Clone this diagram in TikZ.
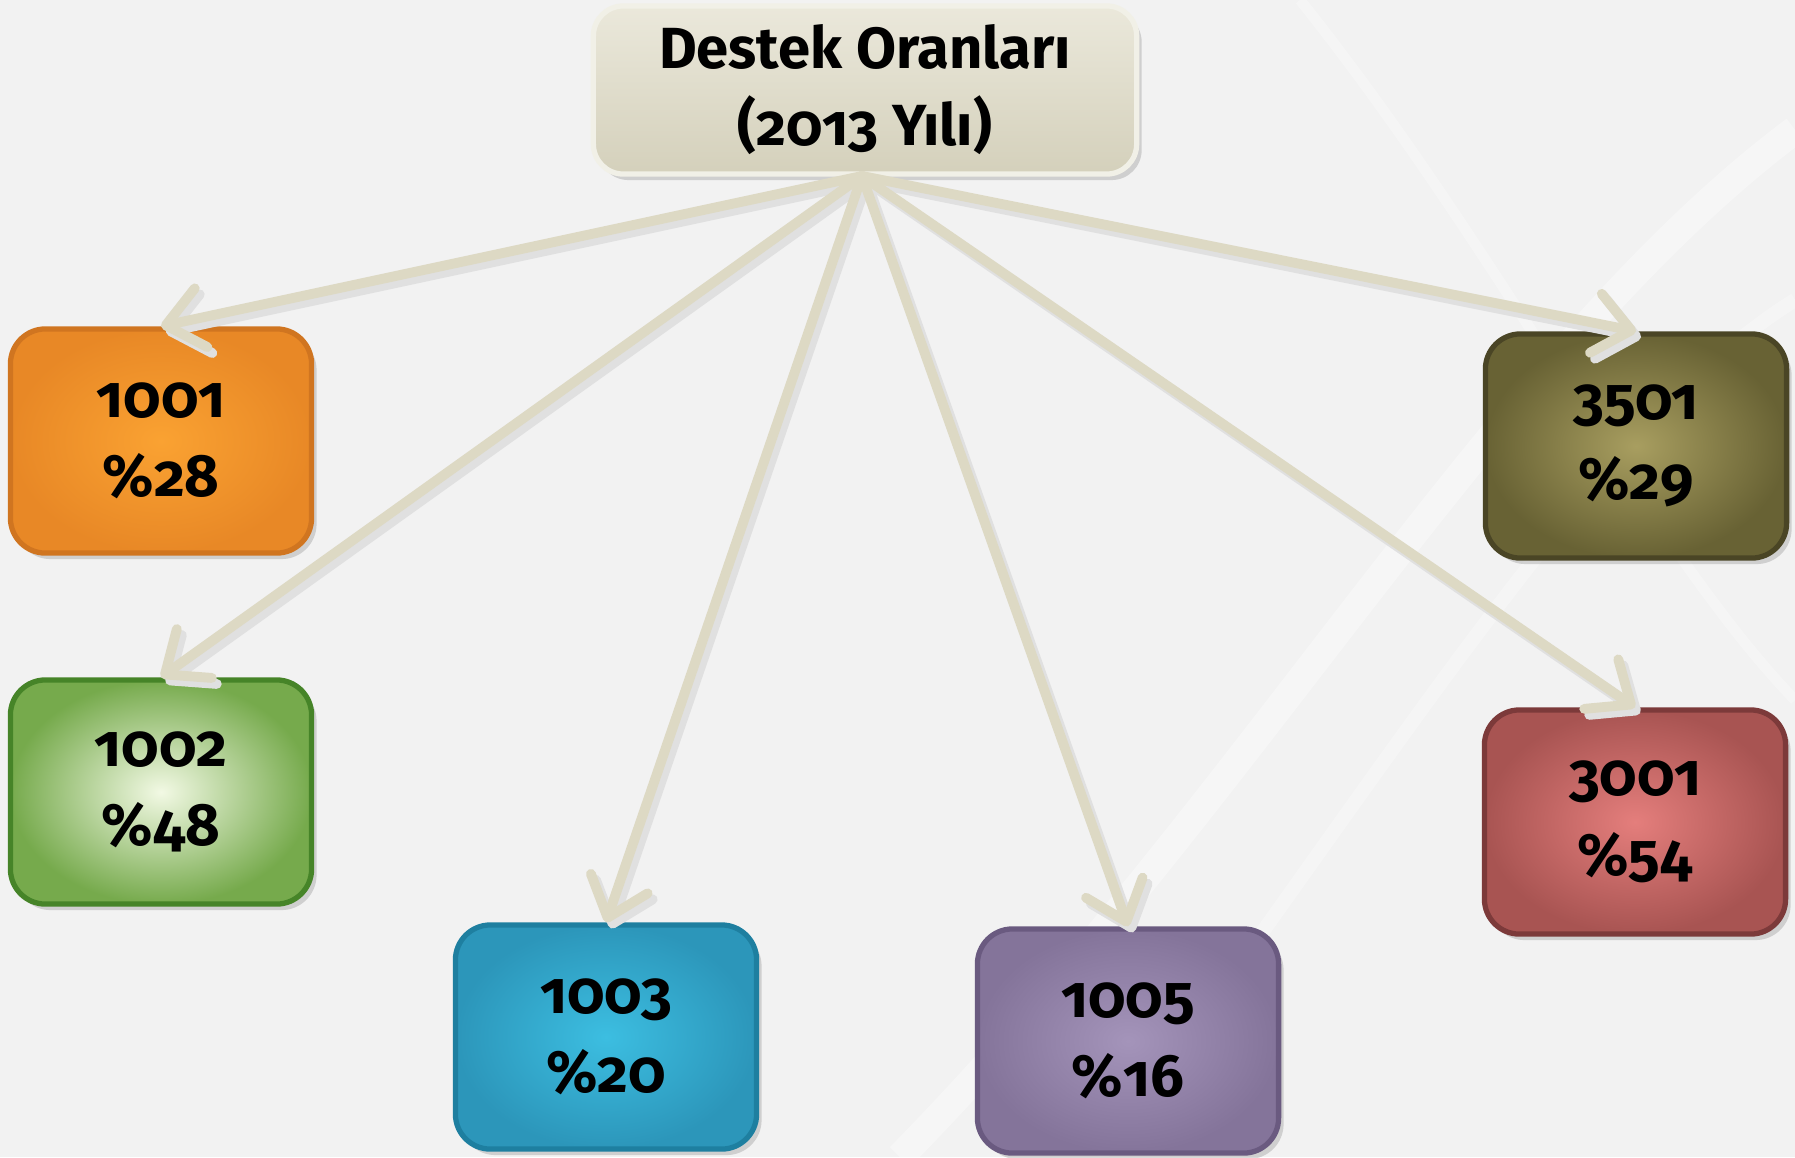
\documentclass[tikz,border=0pt]{standalone}
\usepackage{fontspec}
\setmainfont{Fira Sans}[Numbers=OldStyle]
\usepackage{xcolor}
\usetikzlibrary{arrows.meta}
\usetikzlibrary{shadows}

\definecolor{bgGray}{HTML}{F2F2F2}
\definecolor{beige}{HTML}{DDD9C3}
\definecolor{arrowBeige}{HTML}{DDD9C4}

\begin{document}
\begin{tikzpicture}[x=0.01cm, y=-0.01cm,
    >={Straight Barb[length=3.6mm,width=6mm,round]},
    tile/.style = {rectangle, rounded corners=0.35cm, line width=1.5pt,
                   minimum width=3.01cm, minimum height=2.24cm,
                   align=center, text=black,
                   font=\bfseries\fontsize{17}{22.6}\selectfont,
                   shading=radial,
                   drop shadow={shadow xshift=0.05cm, shadow yshift=-0.06cm,
                                opacity=0.3}},
    head/.style = {tile, minimum width=5.43cm, minimum height=1.68cm,
                   rounded corners=0.3cm, draw=white!60!beige,
                   shading=axis, top color=white!40!beige, bottom color=beige!96!black,
                   font=\bfseries\fontsize{16.5}{21.9}\selectfont},
    orangebox/.style = {tile, draw={rgb,255:red,208;green,117;blue,32},
                        inner color={rgb,255:red,250;green,162;blue,50},
                        outer color={rgb,255:red,232;green,136;blue,38}},
    greenbox/.style  = {tile, draw={rgb,255:red,70;green,132;blue,40},
                        inner color={rgb,255:red,242;green,249;blue,228},
                        outer color={rgb,255:red,118;green,170;blue,76}},
    bluebox/.style   = {tile, draw={rgb,255:red,30;green,127;blue,160},
                        inner color={rgb,255:red,60;green,190;blue,225},
                        outer color={rgb,255:red,44;green,150;blue,186}},
    purplebox/.style = {tile, draw={rgb,255:red,106;green,90;blue,128},
                        inner color={rgb,255:red,164;green,148;blue,186},
                        outer color={rgb,255:red,132;green,116;blue,154}},
    redbox/.style    = {tile, draw={rgb,255:red,124;green,58;blue,58},
                        inner color={rgb,255:red,228;green,126;blue,124},
                        outer color={rgb,255:red,168;green,84;blue,82}},
    olivebox/.style  = {tile, draw={rgb,255:red,74;green,69;blue,37},
                        inner color={rgb,255:red,168;green,158;blue,96},
                        outer color={rgb,255:red,104;green,98;blue,52}},
    link/.style = {->, color=arrowBeige, line width=2.8pt, line cap=round},
    linkshade/.style = {link, color=black!12}]

  % page and faint background swooshes
  \fill[bgGray] (0,0) rectangle (1795,1157);
  \useasboundingbox (0,0) rectangle (1795,1157);
  \draw[white, line width=8pt, opacity=0.35] (900,1157) .. controls (1250,800) and (1500,350) .. (1795,130);
  \draw[white, line width=4pt, opacity=0.3] (1100,1157) .. controls (1400,750) and (1600,420) .. (1795,300);
  \draw[white, line width=3pt, opacity=0.3] (1300,0) .. controls (1500,250) and (1650,550) .. (1795,700);

  \node (title) [head] at (865,90) {Destek Oranları\\(2013 Yılı)};

  \node (p1001) [orangebox] at (161,441)  {1001\\\%28};
  \node (p1002) [greenbox]  at (161,792)  {1002\\\%48};
  \node (p1003) [bluebox]   at (606,1037) {1003\\\%20};
  \node (p1005) [purplebox] at (1128,1041) {1005\\\%16};
  \node (p3001) [redbox]    at (1635,822) {3001\\\%54};
  \node (p3501) [olivebox]  at (1636,446) {3501\\\%29};

  \coordinate (hub) at (862,176);
  \coordinate (hubs) at (867,182);

  % soft shadows under the arrows
  \path[linkshade]
    (hubs) edge ([shift={(5,6)}]p1001.north)
    (hubs) edge ([shift={(5,6)}]p1002.north)
    (hubs) edge ([shift={(5,6)}]p1003.north)
    (hubs) edge ([shift={(5,6)}]p1005.north)
    (hubs) edge ([shift={(5,6)}]p3001.north)
    (hubs) edge ([shift={(5,6)}]p3501.north);

  \path[link]
    (hub) edge (p1001.north)
    (hub) edge (p1002.north)
    (hub) edge (p1003.north)
    (hub) edge (p1005.north)
    (hub) edge (p3001.north)
    (hub) edge (p3501.north);
\end{tikzpicture}
\end{document}
